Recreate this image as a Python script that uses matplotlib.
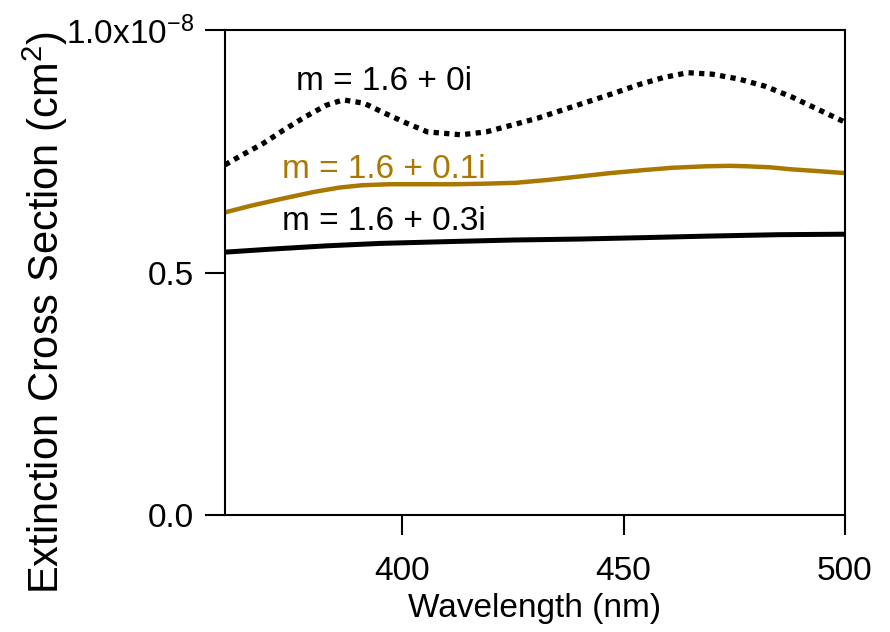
import matplotlib
matplotlib.use("Agg")
import matplotlib.pyplot as plt

plt.rcParams["font.family"] = ["Liberation Sans", "DejaVu Sans"]
plt.rcParams["mathtext.fontset"] = "custom"
plt.rcParams["mathtext.rm"] = "Liberation Sans"
plt.rcParams["mathtext.it"] = "Liberation Sans:italic"

# m = 1.6 + 0i (dotted)
wl_0 = [360, 363.8, 368.6, 373.3, 378.1, 382.9, 386.7, 391.4, 396.2, 401, 405.7,
        413.3, 419, 424.8, 430.5, 436.2, 441.9, 447.6, 453.3, 459, 464.5, 470,
        476, 482, 488, 494, 500]
ext_0 = [0.722, 0.742, 0.766, 0.794, 0.821, 0.845, 0.856, 0.849, 0.828, 0.808, 0.790,
         0.784, 0.790, 0.804, 0.818, 0.835, 0.852, 0.869, 0.887, 0.902, 0.912, 0.909,
         0.899, 0.884, 0.862, 0.836, 0.810]

# m = 1.6 + 0.1i (gold)
wl_1 = [360, 366, 373.3, 380, 385.7, 391, 397.1, 404, 411.4, 418, 425.7, 433, 440,
        447, 454.3, 461, 468.6, 474, 478, 483, 487.6, 494, 500]
ext_1 = [0.624, 0.638, 0.653, 0.666, 0.675, 0.680, 0.682, 0.682, 0.682, 0.683, 0.685,
         0.691, 0.698, 0.705, 0.711, 0.716, 0.719, 0.720, 0.719, 0.717, 0.713, 0.709, 0.705]

# m = 1.6 + 0.3i (black)
wl_3 = [360, 370, 382.9, 395, 411.4, 425, 440, 455, 468.6, 485, 500]
ext_3 = [0.542, 0.548, 0.555, 0.560, 0.564, 0.567, 0.569, 0.572, 0.575, 0.578, 0.579]

labels = ["m = 1.6 + 0i", "m = 1.6 + 0.1i", "m = 1.6 + 0.3i"]
gold = "#AA7800"

fig = plt.figure(figsize=(8.9, 6.32), dpi=100)
ax = fig.add_axes([0.2528, 0.1851, 0.6966, 0.7674])

ax.plot(wl_0, ext_0, color="black", lw=3.8, linestyle=(0, (1, 1)),
        dash_capstyle="butt")
ax.plot(wl_1, ext_1, color=gold, lw=3.2)
ax.plot(wl_3, ext_3, color="black", lw=3.6)

ax.text(376, 0.893, labels[0], fontsize=24, va="center", ha="left", color="black")
ax.text(372.9, 0.712, labels[1], fontsize=24, va="center", ha="left", color=gold)
ax.text(372.9, 0.605, labels[2], fontsize=24, va="center", ha="left", color="black")

ax.set_xlim(360, 500)
ax.set_ylim(0, 1.0)
ax.set_xticks([400, 450, 500])
ax.set_yticks([0.0, 0.5, 1.0])
ax.set_yticklabels(["0.0", "0.5", r"1.0x10$^{\mathregular{-8}}$"])

for s in ax.spines.values():
    s.set_linewidth(1.5)
ax.tick_params(axis="both", direction="out", length=14.4, width=1.5,
               labelsize=24)
ax.tick_params(axis="x", pad=15)
ax.tick_params(axis="y", pad=8)

ax.set_xlabel("Wavelength (nm)", fontsize=24, labelpad=4.5)
ax.set_ylabel(r"Extinction Cross Section (cm$^{\mathregular{2}}$)", fontsize=30)
ax.yaxis.set_label_coords(-0.25, 0.418)

fig.savefig("out.png", dpi=100)
